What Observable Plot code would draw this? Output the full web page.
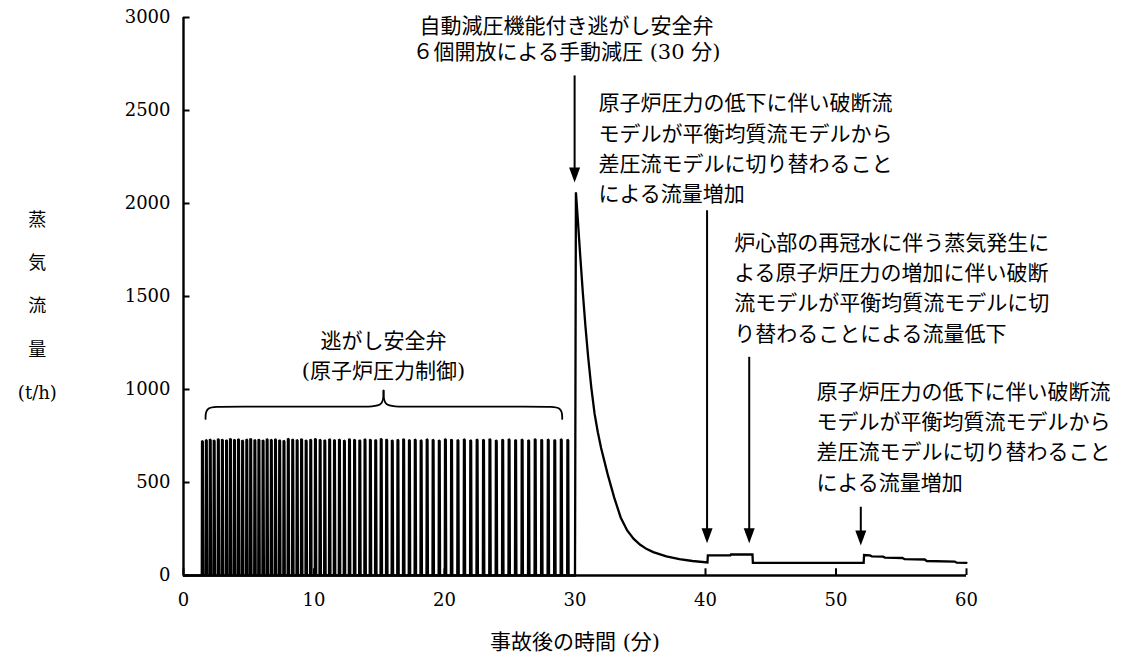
<!DOCTYPE html>
<html>
<head>
<meta charset="utf-8">
<script src="https://cdn.jsdelivr.net/npm/d3@7"></script>
<script src="https://cdn.jsdelivr.net/npm/@observablehq/plot@0.6"></script>
<style>
  html, body { margin: 0; padding: 0; background: #fff; }
</style>
</head>
<body>
<div id="chart"></div>
<script>
// ---- Data ----
// Relief valve (SRV) cycling: start time of each opening (min) and its peak flow (t/h)
const pulseStart = [1.40,1.70,2.00,2.30,2.62,2.93,3.25,3.55,3.86,4.17,4.48,4.80,5.10,5.42,5.73,6.05,6.36,6.68,7.00,7.32,7.65,7.98,8.32,8.66,9.00,9.35,9.70,10.06,10.42,10.78,11.15,11.52,11.90,12.28,12.67,13.06,13.46,13.86,14.27,14.68,15.10,15.52,15.95,16.38,16.82,17.26,17.71,18.16,18.62,19.08,19.55,20.02,20.49,20.98,21.47,21.96,22.45,22.94,23.43,23.92,24.41,24.90,25.40,25.90,26.40,26.90,27.40,27.90,28.40,28.90,29.40];
const pulsePeak = [725,730,733,728,735,732,729,736,731,734,727,733,736,730,732,728,735,731,734,729,726,737,733,730,735,728,732,736,731,729,734,730,733,727,735,731,729,734,732,730,736,733,728,731,735,730,733,729,734,731,728,735,732,730,734,729,733,731,735,728,732,734,730,733,729,735,731,733,730,734,731];
// Depressurisation and afterwards
const decayTime = [29.51,30.00,30.07,30.20,30.40,30.60,30.80,31.00,31.25,31.50,31.75,32.00,32.50,33.00,33.50,34.00,34.50,35.00,35.50,36.00,37.00,38.00,39.00,40.15,40.18,41.90,41.95,43.60,43.63,52.12,52.15,52.60,52.75,53.60,53.75,55.10,55.25,56.80,56.95,59.10,59.25,60.00];
const decayFlow = [0,0,2060,1930,1720,1520,1340,1180,1010,870,770,685,545,420,312,242,197,165,142,126,103,88,78,70,108,108,113,113,68,68,110,108,103,101,96,94,88,86,78,75,69,68];

const xTicks = [0,10,20,30,40,50,60];
const yTicks = [0,500,1000,1500,2000,2500,3000];
const xLabel = "事故後の時間 (分)";
const yLabel = "蒸\n気\n流\n量\n(t/h)";

// Annotations
const noteTop = ["自動減圧機能付き逃がし安全弁", "６個開放による手動減圧 (30 分)"];
const note2 = ["原子炉圧力の低下に伴い破断流", "モデルが平衡均質流モデルから", "差圧流モデルに切り替わること", "による流量増加"];
const note3 = ["炉心部の再冠水に伴う蒸気発生に", "よる原子炉圧力の増加に伴い破断", "流モデルが平衡均質流モデルに切", "り替わることによる流量低下"];
const note4 = ["原子炉圧力の低下に伴い破断流", "モデルが平衡均質流モデルから", "差圧流モデルに切り替わること", "による流量増加"];
const noteBrace = ["逃がし安全弁", "(原子炉圧力制御)"];

// arrows: x (min), shaft top and tip (t/h)
const arrowX = [29.97, 40.12, 43.35, 51.90];
const arrowTop = [2686, 1961, 1173, 367];
const arrowTip = [2113, 174, 174, 161];

// ---- Build series ----
const series = [{t: 0, v: 0}];
pulseStart.forEach((t0, i) => {
  series.push({t: t0, v: 0});
  series.push({t: t0 + 0.02, v: pulsePeak[i]});
  series.push({t: t0 + 0.08, v: pulsePeak[i] - 6});
  series.push({t: t0 + 0.11, v: 0});
});
decayTime.forEach((t, i) => series.push({t, v: decayFlow[i]}));

// brace (two halves meeting at the tip), in data units
const braceL = [[1.69,842],[1.69,908],[2.99,908],[14.02,908],[15.33,908],[15.33,994]];
const braceR = [[15.33,994],[15.33,908],[16.64,908],[27.72,908],[29.02,908],[29.02,842]];

const triDown = {
  draw(ctx) {
    ctx.moveTo(0, 0);
    ctx.lineTo(-5.5, -15);
    ctx.lineTo(5.5, -15);
    ctx.closePath();
  }
};

const font = "'DejaVu Serif', 'Liberation Serif', 'Noto Sans CJK JP', serif";
const arrows = arrowX.map((x, i) => ({x, top: arrowTop[i], tip: arrowTip[i]}));
const txt = {fontFamily: font, fill: "#000"};

const chart = Plot.plot({
  width: 1146,
  height: 659,
  marginLeft: 183,
  marginRight: 180,
  marginTop: 17,
  marginBottom: 84,
  x: {domain: [0, 60]},
  y: {domain: [0, 3000]},
  style: {fontFamily: font, fontSize: "18px", background: "#fff", color: "#000"},
  marks: [
    // axes
    Plot.axisY({ticks: yTicks, tickSize: 0, tickPadding: 13, tickFormat: d => String(d), fontSize: 18, fontFamily: font}),
    Plot.axisX({ticks: xTicks, tickSize: 0, tickPadding: 18, tickFormat: d => String(d), fontSize: 18, fontFamily: font}),
    Plot.ruleY(yTicks, {x1: 0, x2: 0.5, stroke: "#000", strokeWidth: 2}),
    Plot.ruleX(xTicks, {y1: 0, y2: 36, stroke: "#000", strokeWidth: 2}),
    // data
    Plot.line(series, {x: "t", y: "v", stroke: "#000", strokeWidth: 2.3, strokeLinejoin: "miter", strokeMiterlimit: 2}),
    Plot.ruleX([0], {stroke: "#000", strokeWidth: 2.4}),
    Plot.ruleY([0], {stroke: "#000", strokeWidth: 2.4}),
    // brace
    Plot.line(braceL, {x: d => d[0], y: d => d[1], curve: "basis", stroke: "#000", strokeWidth: 1.8}),
    Plot.line(braceR, {x: d => d[0], y: d => d[1], curve: "basis", stroke: "#000", strokeWidth: 1.8}),
    // arrows
    Plot.ruleX(arrows, {x: "x", y1: "top", y2: "tip", stroke: "#000", strokeWidth: 2, insetBottom: 6}),
    Plot.dot(arrows, {x: "x", y: "tip", symbol: triDown, fill: "#000", stroke: null, r: 5}),
    // texts
    Plot.text([noteTop.join("\n")], {...txt, x: 29.35, y: 2892, text: d => d, textAnchor: "middle", lineAnchor: "middle", lineHeight: 1.25, fontSize: 21}),
    Plot.text([note2.join("\n")], {...txt, x: 31.8, y: 2309, text: d => d, textAnchor: "start", lineAnchor: "middle", lineHeight: 1.45, fontSize: 21}),
    Plot.text([note3.join("\n")], {...txt, x: 42.2, y: 1559, text: d => d, textAnchor: "start", lineAnchor: "middle", lineHeight: 1.45, fontSize: 21}),
    Plot.text([note4.join("\n")], {...txt, x: 48.5, y: 758, text: d => d, textAnchor: "start", lineAnchor: "middle", lineHeight: 1.45, fontSize: 21}),
    Plot.text([noteBrace.join("\n")], {...txt, x: 15.33, y: 1196, text: d => d, textAnchor: "middle", lineAnchor: "middle", lineHeight: 1.45, fontSize: 21}),
    Plot.text([yLabel], {...txt, x: -11.2, y: 1489, text: d => d, textAnchor: "middle", lineAnchor: "middle", lineHeight: 2.4, fontSize: 18}),
    Plot.text([xLabel], {...txt, x: 30, y: -360, text: d => d, textAnchor: "middle", lineAnchor: "middle", fontSize: 21})
  ]
});
document.getElementById("chart").appendChild(chart);
</script>
</body>
</html>
